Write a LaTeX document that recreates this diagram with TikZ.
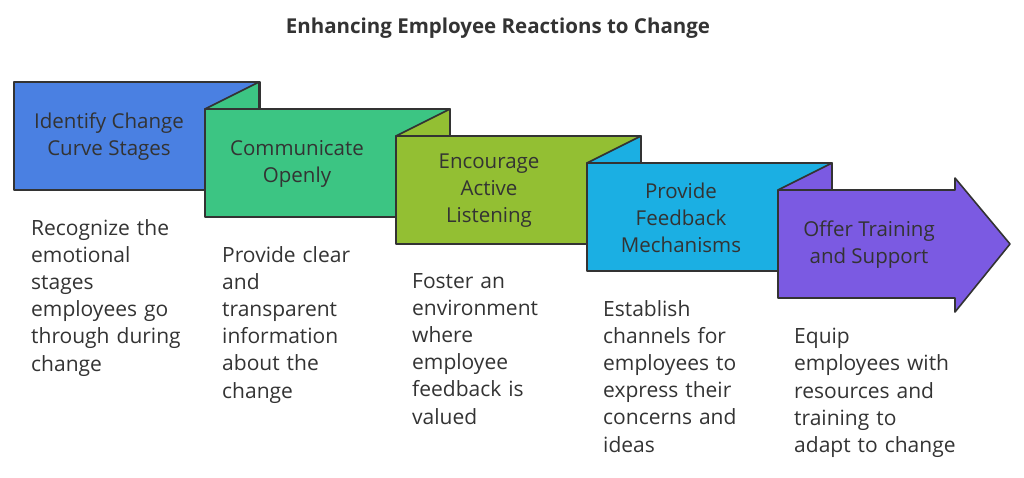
\documentclass[tikz,border=0pt]{standalone}
\usepackage{fontspec}
\setmainfont{Open Sans}
\definecolor{cA}{HTML}{4A80E2}
\definecolor{cB}{HTML}{3CC583}
\definecolor{cC}{HTML}{93BF33}
\definecolor{cD}{HTML}{1BAFE3}
\definecolor{cE}{HTML}{7B5AE2}
\definecolor{tx}{HTML}{333333}
\begin{document}
\begin{tikzpicture}[x=1pt,y=-1pt,
  box/.style={draw=tx,line width=1.6pt,line join=round},
  ttl/.style={text=tx,font=\fontsize{20.5}{27}\selectfont,align=center},
  desc/.style={text=tx,font=\fontsize{21}{27.2}\selectfont,align=left,anchor=north west,inner sep=0pt,text width=200pt}]
\useasboundingbox (0,0) rectangle (1024,477);
\node[text=tx,font=\bfseries\fontsize{20.5}{24}\selectfont] (title) at (498,28) {Enhancing Employee Reactions to Change};
% boxes
\filldraw[box,fill=cA] (14,82) rectangle (260,190);
\filldraw[box,fill=cB] (205,109) -- (259,82) -- (259,109) -- cycle;
\filldraw[box,fill=cB] (205,109) rectangle (450,217);
\filldraw[box,fill=cC] (396,136) -- (450,109) -- (450,136) -- cycle;
\filldraw[box,fill=cC] (396,136) rectangle (641,244);
\filldraw[box,fill=cD] (587,163) -- (641,136) -- (641,163) -- cycle;
\filldraw[box,fill=cD] (587,163) rectangle (832,271);
\filldraw[box,fill=cE] (778,190) -- (832,163) -- (832,190) -- cycle;
\filldraw[box,fill=cE] (778,190) -- (955,190) -- (955,178) -- (1010,244) -- (955,312) -- (955,298) -- (778,298) -- cycle;
\node[ttl] (t1) at (109,137) {Identify Change\\Curve Stages};
\node[ttl] (t2) at (297,164) {Communicate\\Openly};
\node[ttl] (t3) at (489,191) {Encourage\\Active\\Listening};
\node[ttl] (t4) at (681,218) {Provide\\Feedback\\Mechanisms};
\node[ttl] (t5) at (869,245) {Offer Training\\and Support};
\node[desc] (d1) at (31,219) {Recognize the\\emotional\\stages\\employees go\\through during\\change};
\node[desc] (d2) at (222,246) {Provide clear\\and\\transparent\\information\\about the\\change};
\node[desc] (d3) at (412,273) {Foster an\\environment\\where\\employee\\feedback is\\valued};
\node[desc] (d4) at (603,300) {Establish\\channels for\\employees to\\express their\\concerns and\\ideas};
\node[desc] (d5) at (794,328) {Equip\\employees with\\resources and\\training to\\adapt to change};
\end{tikzpicture}
\end{document}
